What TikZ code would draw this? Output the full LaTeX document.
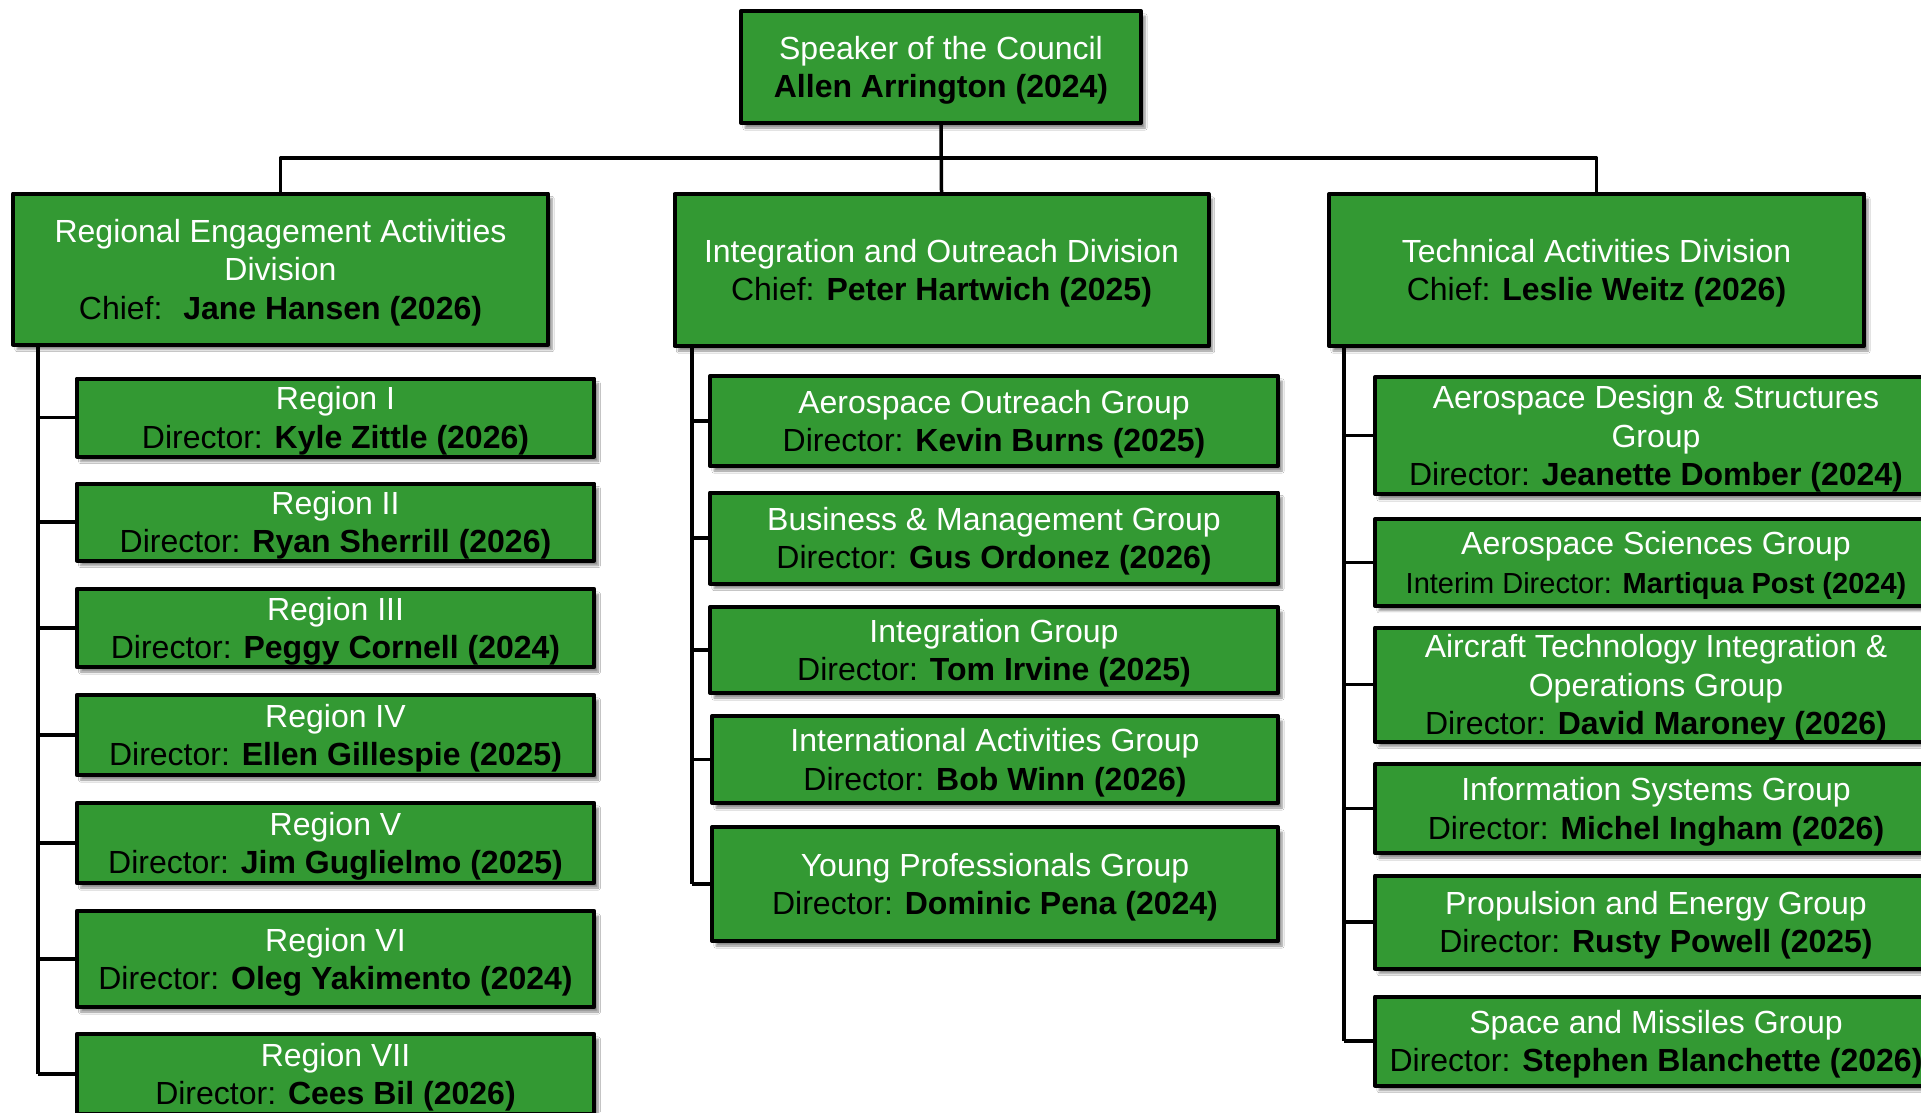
\documentclass[tikz,border=0pt]{standalone}
\usepackage{fontspec}
\setmainfont{Liberation Sans}
\usetikzlibrary{shadows.blur}
\definecolor{boxgreen}{RGB}{51,153,51}
\newcommand{\person}[2]{\\{\color{black}#1 \textbf{#2}}}

\begin{document}
\begin{tikzpicture}[x=1pt, y=-1pt, line join=round,
	unit/.style={draw=black, line width=4pt, fill=boxgreen, text=white, align=center, inner sep=0pt,
		font=\fontsize{32}{38.5}\selectfont, text depth=-0.5pt,
		blur shadow={shadow xshift=4pt, shadow yshift=-5pt, shadow blur steps=6, shadow opacity=45}},
	link/.style={line width=3.5pt}]
	\fill[white] (0,0) rectangle (1921,1112);
	\path[use as bounding box, clip] (0,0) rectangle (1921,1112);
	% council and divisions
	\node[unit, minimum width=400pt, minimum height=112pt] (speaker) at (941,67) {Speaker of the Council\\{\color{black}\bfseries Allen Arrington (2024)}};
	\node[unit, minimum width=535pt, minimum height=151pt] (d1) at (280.5,269) {Regional Engagement Activities\\Division\person{Chief:\ }{Jane Hansen (2026)}};
	\node[unit, minimum width=534pt, minimum height=152pt] (d2) at (941.5,270) {Integration and Outreach Division\person{Chief:}{Peter Hartwich (2025)}};
	\node[unit, minimum width=535pt, minimum height=152pt] (d3) at (1596.5,270) {Technical Activities Division\person{Chief:}{Leslie Weitz (2026)}};
	\coordinate (bus) at (941,158);
	\draw[link] (speaker.south) -- (d2.north);
	\draw[link] (d1.north) |- (bus) -| (d3.north);
	% regions
	\begin{scope}[every node/.style={unit, minimum width=517.5pt}]
		\node[minimum height=78pt] (r1) at (335.5,417.5) {Region I\person{Director:}{Kyle Zittle (2026)}};
		\node[minimum height=77pt] (r2) at (335.5,522) {Region II\person{Director:}{Ryan Sherrill (2026)}};
		\node[minimum height=78pt] (r3) at (335.5,628) {Region III\person{Director:}{Peggy Cornell (2024)}};
		\node[minimum height=80pt] (r4) at (335.5,735) {Region IV\person{Director:}{Ellen Gillespie (2025)}};
		\node[minimum height=80pt] (r5) at (335.5,843) {Region V\person{Director:}{Jim Guglielmo (2025)}};
		\node[minimum height=96pt] (r6) at (335.5,959) {Region VI\person{Director:}{Oleg Yakimento (2024)}};
		\node[minimum height=80pt] (r7) at (335.5,1074) {Region VII\person{Director:}{Cees Bil (2026)}};
	\end{scope}
	% outreach groups
	\node[unit, minimum width=568pt, minimum height=90pt] (g1) at (994,421) {Aerospace Outreach Group\person{Director:}{Kevin Burns (2025)}};
	\node[unit, minimum width=568pt, minimum height=91pt] (g2) at (994,538) {Business \& Management Group\person{Director:}{Gus Ordonez (2026)}};
	\node[unit, minimum width=568pt, minimum height=86pt] (g3) at (994,650) {Integration Group\person{Director:}{Tom Irvine (2025)}};
	\node[unit, minimum width=566pt, minimum height=87pt] (g4) at (995,759.5) {International Activities Group\person{Director:}{Bob Winn (2026)}};
	\node[unit, minimum width=566pt, minimum height=114pt] (g5) at (995,884) {Young Professionals Group\person{Director:}{Dominic Pena (2024)}};
	% technical groups
	\node[unit, minimum width=562pt, minimum height=117pt] (t1) at (1656,435.5) {Aerospace Design \& Structures\\Group\person{Director:}{Jeanette Domber (2024)}};
	\node[unit, minimum width=562pt, minimum height=86.5pt] (t2) at (1656,562.5) {Aerospace Sciences Group\\{\fontsize{29}{35}\selectfont\color{black}Interim Director: \textbf{Martiqua Post (2024)}}};
	\node[unit, minimum width=562pt, minimum height=114pt] (t3) at (1656,684.5) {Aircraft Technology Integration \&\\Operations Group\person{Director:}{David Maroney (2026)}};
	\node[unit, minimum width=562pt, minimum height=89pt] (t4) at (1656,808.5) {Information Systems Group\person{Director:}{Michel Ingham (2026)}};
	\node[unit, minimum width=562pt, minimum height=93pt] (t5) at (1656,922) {Propulsion and Energy Group\person{Director:}{Rusty Powell (2025)}};
	\node[unit, minimum width=562pt, minimum height=89pt] (t6) at (1656,1041) {Space and Missiles Group\person{Director:}{Stephen Blanchette (2026)}};
	% spines
	\coordinate (sp1) at (38,0);
	\coordinate (sp2) at (692,0);
	\coordinate (sp3) at (1344,0);
	\draw[link] (sp1 |- d1.south) -- (sp1 |- r7.west);
	\draw[link] (sp2 |- d2.south) -- (sp2 |- g5.west);
	\draw[link] (sp3 |- d3.south) -- (sp3 |- t6.west);
	\foreach \b in {r1,r2,r3,r4,r5,r6,r7} \draw[link] (sp1 |- \b.west) -- (\b.west);
	\foreach \b in {g1,g2,g3,g4,g5} \draw[link] (sp2 |- \b.west) -- (\b.west);
	\foreach \b in {t1,t2,t3,t4,t5,t6} \draw[link] (sp3 |- \b.west) -- (\b.west);
\end{tikzpicture}
\end{document}
